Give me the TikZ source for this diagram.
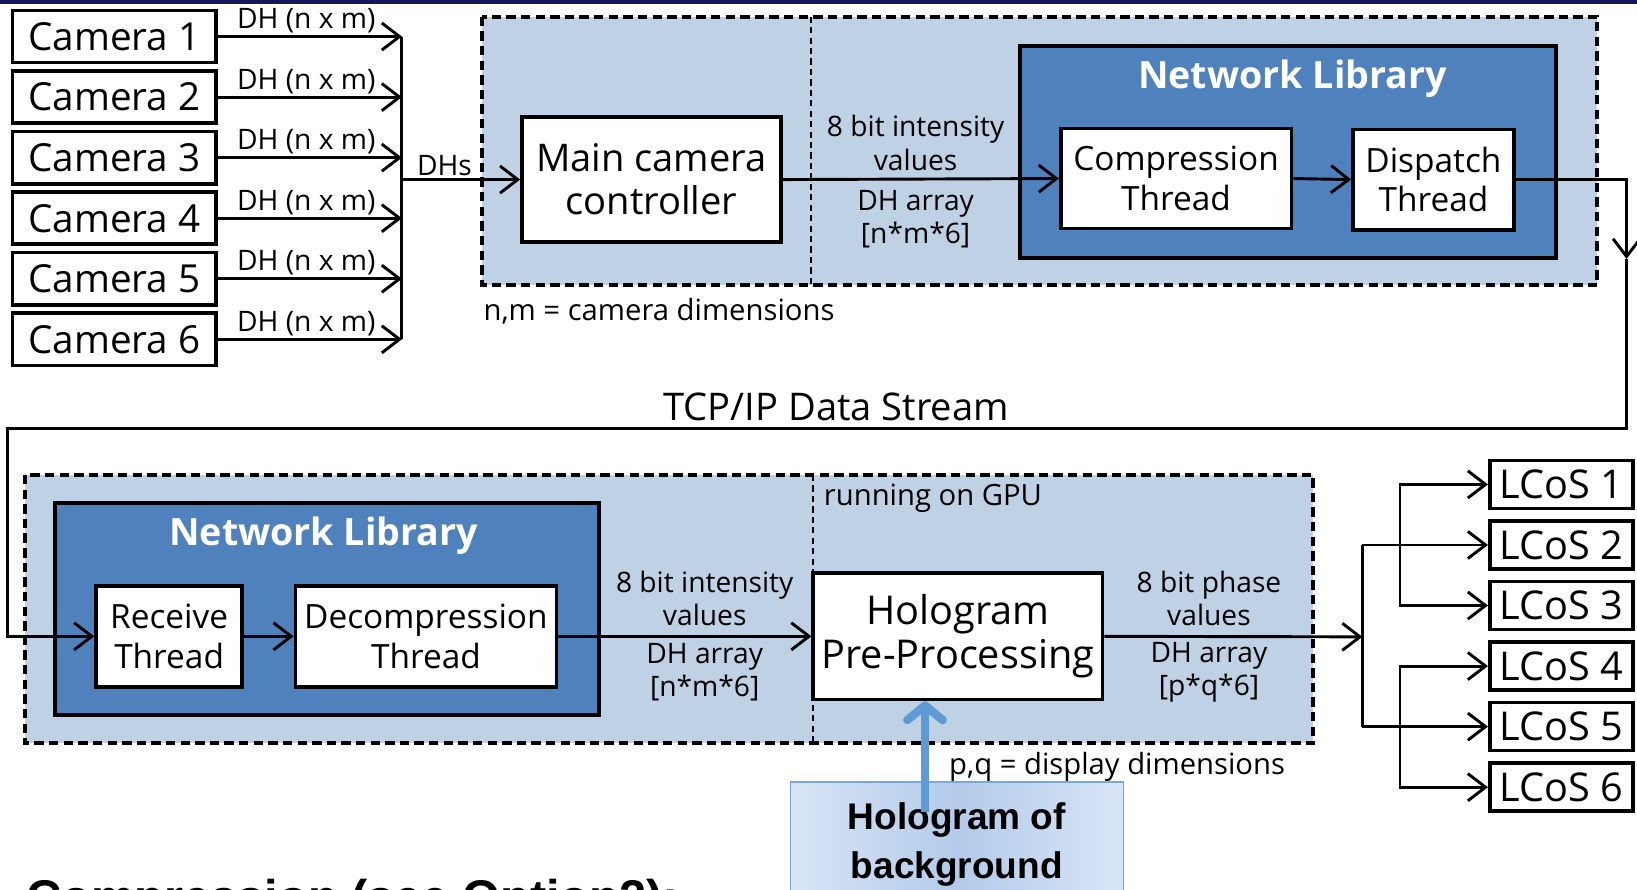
\documentclass[tikz,border=0pt]{standalone}
\usepackage{fontspec}
\setmainfont{Open Sans}
\newfontfamily\arialfont{Liberation Sans}
\usetikzlibrary{arrows.meta,positioning}
\definecolor{panelblue}{HTML}{BFD1E5}
\definecolor{libblue}{HTML}{4F81BD}
\definecolor{navybar}{HTML}{16165A}
\definecolor{notelight}{HTML}{D8E5F6}
\definecolor{notemid}{HTML}{B3CBEA}
\definecolor{noteline}{HTML}{7EA6D8}
\definecolor{thickarrow}{HTML}{5E9AD3}
\begin{document}
\begin{tikzpicture}[x=1pt,y=-1pt,
  box/.style={draw,line width=3.5pt,fill=white,inner sep=0pt,align=center,font=\fontsize{36.5}{41}\selectfont},
  cam/.style={box,font=\fontsize{37}{41}\selectfont,minimum width=195pt,minimum height=50pt},
  lcos/.style={box,font=\fontsize{38}{40}\selectfont,minimum width=137pt,minimum height=46pt},
  thread/.style={box,font=\fontsize{32}{38}\selectfont,minimum height=96pt},
  lbl/.style={font=\fontsize{27}{32}\selectfont,inner sep=1pt,align=center},
  note/.style={font=\fontsize{28}{32}\selectfont,inner sep=1pt},
  libtitle/.style={text=white,font=\bfseries\fontsize{36}{40}\selectfont},
  flow/.style={line width=2.8pt,-{Straight Barb[length=17pt,width=26pt]}},
  wire/.style={line width=2.8pt},
  group/.style={draw,line width=3.8pt,fill=panelblue,dash pattern=on 9pt off 5pt},
  divider/.style={line width=2.2pt,dash pattern=on 6pt off 4pt},
  lib/.style={draw,line width=4pt,fill=libblue}]
\useasboundingbox (0,0) rectangle (1568,852);
\clip (0,0) rectangle (1568,852);
% sender side
\draw[group] (462,16) rectangle (1530,273);
\draw[divider] (777,16) -- (777,273);
\draw[lib] (977,44) rectangle (1490,247);
\node[libtitle] (sendtitle) at (1238,75) {Network Library};
\foreach \i/\y in {1/35,2/93,3/151,4/209,5/267,6/325}{
  \node[cam] (cam\i) at (109.5,\y) {Camera \i};
  \coordinate (bus\i) at (385,\y);
  \draw[flow] (cam\i.east) -- (bus\i) node[lbl,pos=0.48,above=1pt] {DH (n x m)};
}
\draw[wire] (bus1) -- (bus6);
\node[box,minimum width=248pt,minimum height=120pt] (main) at (624,172) {Main camera\\controller};
\node[thread,minimum width=221pt] (compress) at (1126.5,171) {Compression\\Thread};
\node[thread,minimum width=154pt] (dispatch) at (1373,172) {Dispatch\\Thread};
\coordinate (dhs) at (385,172);
\draw[flow] (dhs) -- (main.west) node[lbl,pos=0.36,above=1pt] {DHs};
\draw[flow] (main.east) -- (compress.west);
\draw[flow] (compress.east) -- (dispatch.west);
\node[lbl] (sendvals) at (877,137) {8 bit intensity\\values};
\node[lbl] (sendarr) at (877,210) {DH array\\{[n*m*6]}};
\node[note,anchor=west] (camdim) at (462,298) {n,m = camera dimensions};
% TCP/IP link
\coordinate (tcpA) at (1558,172);
\coordinate (tcpB) at (1558,248);
\draw[flow] (dispatch.east) -- (tcpA) -- (tcpB);
\node[font=\fontsize{36.5}{40}\selectfont] (tcp) at (801,390) {TCP/IP Data Stream};
% receiver side
\draw[group] (24,455) rectangle (1258,712);
\draw[divider] (779,455) -- (779,712);
\draw[lib] (53,482) rectangle (574,685);
\node[libtitle] (recvtitle) at (310,513) {Network Library};
\node[thread,minimum width=140pt,minimum height=97pt] (receive) at (162,609.5) {Receive\\Thread};
\node[thread,minimum width=250pt,minimum height=97pt] (decompress) at (408,609.5) {Decompression\\Thread};
\node[box,minimum width=277pt,minimum height=121pt,font=\fontsize{38}{42}\selectfont] (holo) at (917.5,609.5) {Hologram\\Pre-Processing};
\draw[flow] (tcpB) -- (1558,410) -- (7,410) |- (receive.west);
\draw[flow] (receive.east) -- (decompress.west);
\draw[flow] (decompress.east) -- (holo.west);
\node[lbl] (recvvals) at (675,573) {8 bit intensity\\values};
\node[lbl] (recvarr) at (675,644) {DH array\\{[n*m*6]}};
\node[lbl] (phasevals) at (1158,573) {8 bit phase\\values};
\node[lbl] (phasearr) at (1158,644) {DH array\\{[p*q*6]}};
\node[note,anchor=west] (gpu) at (788,477) {running on GPU};
\node[note,anchor=west] (dispdim) at (908,735) {p,q = display dimensions};
% displays
\foreach \i/\y in {1/464,2/522,3/580,4/638,5/696,6/754}
  \node[lcos] (lcos\i) at (1495.5,\y) {LCoS \i};
\coordinate (fan) at (1305,610);
\coordinate (fanup) at (1305,522);
\coordinate (fandown) at (1305,696);
\coordinate (subup) at (1341,522);
\coordinate (subdown) at (1341,696);
\draw[flow] (holo.east) -- (fan);
\draw[wire] (fanup) -- (fandown);
\draw[flow] (fanup) -- (lcos2.west);
\draw[flow] (fandown) -- (lcos5.west);
\draw[flow] (subup) |- (lcos1.west);
\draw[flow] (subup) |- (lcos3.west);
\draw[flow] (subdown) |- (lcos4.west);
\draw[flow] (subdown) |- (lcos6.west);
% background hologram note
\node[draw=noteline,line width=1.5pt,left color=notelight,right color=notelight,middle color=notemid,
  minimum width=319pt,minimum height=120pt,align=center,
  font=\arialfont\bfseries\fontsize{35.5}{47}\selectfont] (bgholo) at (916.5,809) {Hologram of\\background};
\coordinate (bgfoot) at (886,778);
\draw[thickarrow,line width=8pt,-{Straight Barb[length=14pt,width=34pt,round]}] (bgfoot) -- (bgfoot |- holo.south);
\node[anchor=base west,inner sep=0pt,font=\arialfont\bfseries\fontsize{46.7}{50}\selectfont] (caption) at (25,876) {Compression (see Option2):};
\fill[navybar] (0,0) rectangle (1568,4);
\end{tikzpicture}
\end{document}
